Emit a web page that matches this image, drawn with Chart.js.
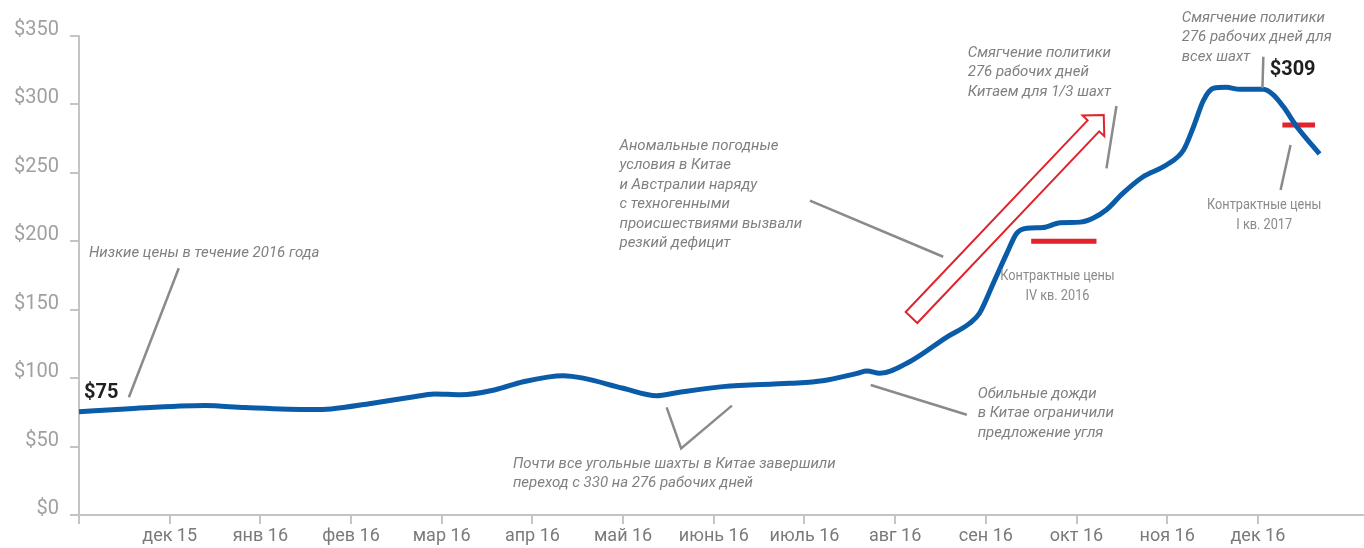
<!DOCTYPE html>
<html>
<head>
<meta charset="utf-8">
<script src="https://cdn.jsdelivr.net/npm/chart.js@4/dist/chart.umd.min.js"></script>
<style>
  body{margin:0;background:#fff;}
</style>
</head>
<body>
<canvas id="priceChart" width="1364" height="548"></canvas>
<script>
// --- Data ---
const monthLabels = ['', 'дек 15', 'янв 16', 'фев 16', 'мар 16', 'апр 16', 'май 16', 'июнь 16',
  'июль 16', 'авг 16', 'сен 16', 'окт 16', 'ноя 16', 'дек 16'];
const yTickValues = [0, 50, 100, 150, 200, 250, 300, 350];

// month index (0 = ноя 15) and price, $/t
const priceMonths = [0.00, 0.51, 1.39, 1.83, 2.56, 2.78, 3.22, 3.66, 3.92, 4.21, 4.59, 4.90, 5.34, 5.56,
  6.00, 6.37, 6.59, 7.10, 7.84, 8.20, 8.58, 8.69, 8.83, 9.16, 9.57, 9.82, 9.93, 10.08, 10.23, 10.34,
  10.45, 10.63, 10.82, 11.04, 11.18, 11.33, 11.51, 11.73, 11.99, 12.18, 12.29, 12.40, 12.51, 12.65,
  12.80, 13.06, 13.17, 13.28, 13.43, 13.68];
const priceValues = [75.5, 77.5, 80, 78.5, 77, 77.5, 81.5, 86, 88.5, 87.8, 91.5, 97.4, 101.8, 100,
  92.6, 87.2, 89.4, 93.8, 96.2, 98.1, 103.5, 105.2, 103.5, 112, 130, 140, 147.4, 169, 191, 205.8,
  209.5, 210, 213.6, 214, 216.8, 223, 235, 247, 255.7, 266.7, 283.7, 303, 311.8, 312.5,
  311, 311, 307, 298.4, 283.7, 263.8];

// contract prices
const contractQ4Months = [10.50, 11.22];
const contractQ4Values = [200, 200];
const contractQ1Months = [13.27, 13.63];
const contractQ1Values = [285, 285];

// --- Annotations (data coordinates: month, price) ---
const notes = [
  {x: 0.11, y: 191.4, lines: ['Низкие цены в течение 2016 года'], style: 'italic'},
  {x: 0.055, y: 89.1, lines: ['$75'], style: 'bold'},
  {x: 5.96, y: 269.6, lines: ['Аномальные погодные', 'условия в Китае', 'и Австралии наряду',
    'с техногенными', 'происшествиями вызвали', 'резкий дефицит'], style: 'italic'},
  {x: 9.80, y: 337.6, lines: ['Смягчение политики', '276 рабочих дней', 'Китаем для 1/3 шахт'], style: 'italic'},
  {x: 12.16, y: 363.2, lines: ['Смягчение политики', '276 рабочих дней для', 'всех шахт'], style: 'italic'},
  {x: 13.13, y: 325.2, lines: ['$309'], style: 'bold'},
  {x: 10.79, y: 174.6, lines: ['Контрактные цены', 'IV кв. 2016'], style: 'plain'},
  {x: 13.07, y: 226.5, lines: ['Контрактные цены', 'I кв. 2017'], style: 'plain'},
  {x: 9.91, y: 88.4, lines: ['Обильные дожди', 'в Китае ограничили', 'предложение угля'], style: 'italic'},
  {x: 4.785, y: 37.3, lines: ['Почти все угольные шахты в Китае завершили', 'переход с 330 на 276 рабочих дней'], style: 'italic'}
];
const leaders = [
  [[1.10, 180.3], [0.55, 86.0]],
  [[8.06, 229.7], [9.53, 188.7]],
  [[11.44, 298.9], [11.33, 253.3]],
  [[13.06, 334.9], [13.05, 311.8]],
  [[13.36, 270.4], [13.25, 237.5]],
  [[6.48, 78.7], [6.64, 48.7], [7.20, 79.9]],
  [[8.73, 95.0], [9.79, 73.3]]
];
const arrowFrom = [9.18, 144.3];
const arrowTo = [11.30, 292.3];

const toPoints = (xs, ys) => xs.map((x, i) => ({x: x, y: ys[i]}));

const axisColor = '#c4c4c4';
const baseFont = 'Roboto, "Noto Sans", sans-serif';

// --- Plugin for annotations ---
const annotationPlugin = {
  id: 'annotations',
  afterDatasetsDraw(chart){
    const ctx = chart.ctx;
    const xs = chart.scales.x, ys = chart.scales.y;
    const px = p => [xs.getPixelForValue(p[0]), ys.getPixelForValue(p[1])];
    ctx.save();

    // leader lines
    ctx.strokeStyle = '#8a8a8a';
    ctx.lineWidth = 2.5;
    ctx.lineCap = 'butt';
    leaders.forEach(pts=>{
      ctx.beginPath();
      pts.forEach((p, i)=>{
        const [X, Y] = px(p);
        if(i===0) ctx.moveTo(X, Y); else ctx.lineTo(X, Y);
      });
      ctx.stroke();
    });

    // hollow red arrow
    const b = px(arrowFrom), t = px(arrowTo);
    const dx = t[0]-b[0], dy = t[1]-b[1], len = Math.hypot(dx, dy);
    const u = [dx/len, dy/len], n = [-u[1], u[0]];
    const w = 8, hl = 15, hw = 15;
    const hb = [t[0]-u[0]*hl, t[1]-u[1]*hl];
    const poly = [
      [b[0]+n[0]*w, b[1]+n[1]*w],
      [hb[0]+n[0]*w, hb[1]+n[1]*w],
      [hb[0]+n[0]*hw, hb[1]+n[1]*hw],
      t,
      [hb[0]-n[0]*hw, hb[1]-n[1]*hw],
      [hb[0]-n[0]*w, hb[1]-n[1]*w],
      [b[0]-n[0]*w, b[1]-n[1]*w]
    ];
    ctx.strokeStyle = '#e2232b';
    ctx.lineWidth = 2;
    ctx.lineJoin = 'miter';
    ctx.beginPath();
    poly.forEach((p, i)=>{ if(i===0) ctx.moveTo(p[0], p[1]); else ctx.lineTo(p[0], p[1]); });
    ctx.closePath();
    ctx.stroke();

    // texts
    ctx.textBaseline = 'middle';
    notes.forEach(nt=>{
      const [X, Y] = px([nt.x, nt.y]);
      if(nt.style==='plain'){
        // condensed look: squeeze horizontally
        ctx.save();
        ctx.translate(X, Y);
        ctx.scale(0.82, 1);
        ctx.font = '15.5px ' + baseFont;
        ctx.fillStyle = '#8a8a8a';
        ctx.textAlign = 'center';
        nt.lines.forEach((line, i)=>ctx.fillText(line, 0, i*20.5));
        ctx.restore();
        return;
      }
      if(nt.style==='italic'){
        ctx.font = 'italic 15px ' + baseFont;
        ctx.fillStyle = '#808080';
      } else {
        ctx.font = 'bold 20px ' + baseFont;
        ctx.fillStyle = '#1f1f1f';
      }
      ctx.textAlign = 'left';
      nt.lines.forEach((line, i)=>ctx.fillText(line, X, Y + i*19.5));
    });
    ctx.restore();
  }
};

// --- Chart ---
const ctx = document.getElementById('priceChart').getContext('2d');
const chart = new Chart(ctx, {
  type: 'line',
  data: {
    datasets: [
      {data: toPoints(priceMonths, priceValues), borderColor: '#0b5ca8', borderWidth: 5,
        pointRadius: 0, cubicInterpolationMode: 'monotone', fill: false},
      {data: toPoints(contractQ4Months, contractQ4Values), borderColor: '#e2232b', borderWidth: 5,
        pointRadius: 0, borderCapStyle: 'butt'},
      {data: toPoints(contractQ1Months, contractQ1Values), borderColor: '#e2232b', borderWidth: 5,
        pointRadius: 0, borderCapStyle: 'butt'}
    ]
  },
  options: {
    responsive: false,
    animation: false,
    layout: {padding: {top: 36, right: 0, left: 0, bottom: 0}},
    plugins: {legend: {display: false}, tooltip: {enabled: false}},
    scales: {
      x: {
        type: 'linear', min: 0, max: 14.17,
        afterBuildTicks: s => { s.ticks = monthLabels.map((l, i)=>({value: i})); },
        afterFit: s => { s.height = 33; },
        ticks: {
          autoSkip: false, maxRotation: 0, padding: 2, color: '#7a7a7a',
          font: {family: baseFont, size: 18},
          callback: v => monthLabels[v]
        },
        grid: {drawOnChartArea: false, tickLength: 9, color: axisColor, lineWidth: 2},
        border: {color: axisColor, width: 2}
      },
      y: {
        min: 0, max: 350,
        afterBuildTicks: s => { s.ticks = yTickValues.map(v=>({value: v})); },
        afterFit: s => { s.width = 79; },
        ticks: {
          padding: 11, color: '#a0a0a0', labelOffset: -6,
          font: {family: baseFont, size: 20},
          callback: v => '$' + v
        },
        grid: {drawOnChartArea: false, tickLength: 9, color: axisColor, lineWidth: 2},
        border: {color: axisColor, width: 2}
      }
    }
  },
  plugins: [annotationPlugin]
});
</script>
</body>
</html>
